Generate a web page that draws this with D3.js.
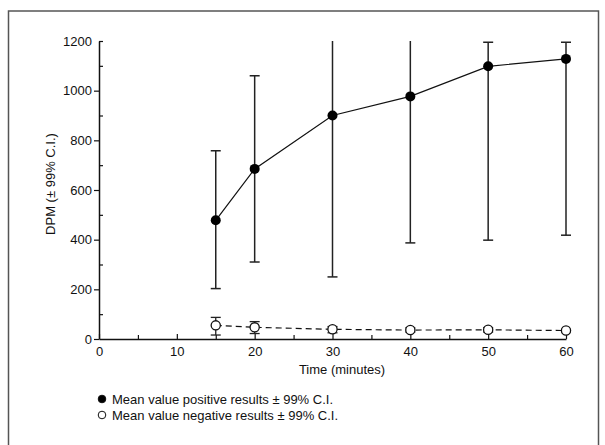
<!DOCTYPE html>
<html><head><meta charset="utf-8">
<script src="https://cdn.jsdelivr.net/npm/d3@7"></script>
<style>
html,body{margin:0;padding:0;background:#fff;}
svg{display:block;font-family:"Liberation Sans",Arial,sans-serif;}
</style></head>
<body>
<svg id="chart" width="605" height="445"></svg>
<script>
// Data
const times = [15, 20, 30, 40, 50, 60];
const posMean  = [478, 685, 900, 977, 1098, 1128];
const posLower = [203, 310, 250, 387, 398, 418];
const posUpper = [758, 1060, 1555, 1576, 1195, 1195];
const negMean  = [55, 47, 39, 36, 37, 34];
const negLower = [16, 22, 25, 28, 28, 30];
const negUpper = [87, 70, 50, 45, 46, 38];
const xTicks = [0, 10, 20, 30, 40, 50, 60];
const xMinor = [5, 15, 25, 35, 45, 55];
const yTicks = [0, 200, 400, 600, 800, 1000, 1200];
const yMinor = [100, 300, 500, 700, 900, 1100];
const xTitle = "Time (minutes)";
const yTitle = "DPM (\u00b1 99% C.I.)";
const legendLabels = ["Mean value positive results \u00b1 99% C.I.", "Mean value negative results \u00b1 99% C.I."];

const svg = d3.select("#chart");
const x = d3.scaleLinear().domain([0, 60]).range([99, 566]);
const y = d3.scaleLinear().domain([0, 1200]).range([339, 41]);
const ink = "#111";

// outer frame
svg.append("rect").attr("x", 8.5).attr("y", 11).attr("width", 590).attr("height", 460)
  .attr("fill", "none").attr("stroke", "#555").attr("stroke-width", 1.5);

// clip for error bars
svg.append("clipPath").attr("id", "plotclip").append("rect")
  .attr("x", 90).attr("y", y(1200)).attr("width", 490).attr("height", y(0) - y(1200) + 20);

// axes
const gx = svg.append("g").attr("transform", `translate(0,${y(0)})`)
  .call(d3.axisBottom(x).tickValues(xTicks).tickSizeInner(-5).tickSizeOuter(0).tickPadding(8).tickFormat(d3.format("d")));
const gxm = svg.append("g").attr("transform", `translate(0,${y(0)})`)
  .call(d3.axisBottom(x).tickValues(xMinor).tickSizeInner(-4).tickSizeOuter(0).tickFormat(""));
gxm.select(".domain").remove();

const gy = svg.append("g").attr("transform", `translate(${x(0)},0)`)
  .call(d3.axisLeft(y).tickValues(yTicks).tickSizeInner(5).tickSizeOuter(0).tickPadding(2).tickFormat(d3.format("d")));
gy.selectAll(".tick").filter(d => d === 1200).select("line").attr("x2", 4);
const gym = svg.append("g").attr("transform", `translate(${x(0)},0)`)
  .call(d3.axisLeft(y).tickValues(yMinor).tickSizeInner(-4).tickSizeOuter(0).tickFormat(""));
gym.select(".domain").remove();

[gx, gxm, gy, gym].forEach(g => {
  g.selectAll("path.domain").attr("stroke", ink).attr("stroke-width", 1.5);
  g.selectAll(".tick line").attr("stroke", ink).attr("stroke-width", 1.2);
  g.selectAll(".tick text").attr("fill", ink).attr("font-size", 13).attr("font-family", "Liberation Sans, Arial, sans-serif");
});

// axis titles
svg.append("text").attr("x", 342).attr("y", 374).attr("text-anchor", "middle")
  .attr("font-size", 13).attr("fill", ink).text(xTitle);
svg.append("text").attr("transform", "translate(55,184) rotate(-90)").attr("text-anchor", "middle")
  .attr("font-size", 13).attr("fill", ink).text(yTitle);

// error bars
function errorBars(lower, upper, sw) {
  const g = svg.append("g").attr("clip-path", "url(#plotclip)");
  times.forEach((t, i) => {
    const top = Math.min(upper[i], 1200);
    g.append("line").attr("x1", x(t)).attr("x2", x(t)).attr("y1", y(lower[i])).attr("y2", y(top))
      .attr("stroke", "#222").attr("stroke-width", sw);
    g.append("line").attr("x1", x(t) - 5).attr("x2", x(t) + 5).attr("y1", y(lower[i])).attr("y2", y(lower[i]))
      .attr("stroke", "#222").attr("stroke-width", sw);
    if (upper[i] <= 1200) {
      g.append("line").attr("x1", x(t) - 5).attr("x2", x(t) + 5).attr("y1", y(upper[i])).attr("y2", y(upper[i]))
        .attr("stroke", "#222").attr("stroke-width", sw);
    }
  });
}
errorBars(posLower, posUpper, 1.5);
errorBars(negLower, negUpper, 1.3);

// lines
const line = d3.line().x(d => x(d[0])).y(d => y(d[1]));
svg.append("path").attr("d", line(times.map((t, i) => [t, posMean[i]])))
  .attr("fill", "none").attr("stroke", ink).attr("stroke-width", 1.2);
svg.append("path").attr("d", line(times.map((t, i) => [t, negMean[i]])))
  .attr("fill", "none").attr("stroke", ink).attr("stroke-width", 1.2).attr("stroke-dasharray", "6,4");

// markers
svg.append("g").selectAll("circle").data(times).join("circle")
  .attr("cx", d => x(d)).attr("cy", (d, i) => y(posMean[i])).attr("r", 5).attr("fill", "#000");
svg.append("g").selectAll("circle").data(times).join("circle")
  .attr("cx", d => x(d)).attr("cy", (d, i) => y(negMean[i])).attr("r", 4.6)
  .attr("fill", "#fff").attr("stroke", ink).attr("stroke-width", 1.3);

// legend
const lg = svg.append("g");
legendLabels.forEach((lab, i) => {
  const cy = 399 + i * 16;
  lg.append("circle").attr("cx", 102).attr("cy", cy).attr("r", 3.8)
    .attr("fill", i === 0 ? "#000" : "#fff").attr("stroke", ink).attr("stroke-width", 1);
  lg.append("text").attr("x", 112).attr("y", cy + 4.5).attr("font-size", 13).attr("fill", ink).text(lab);
});
</script>
</body></html>
